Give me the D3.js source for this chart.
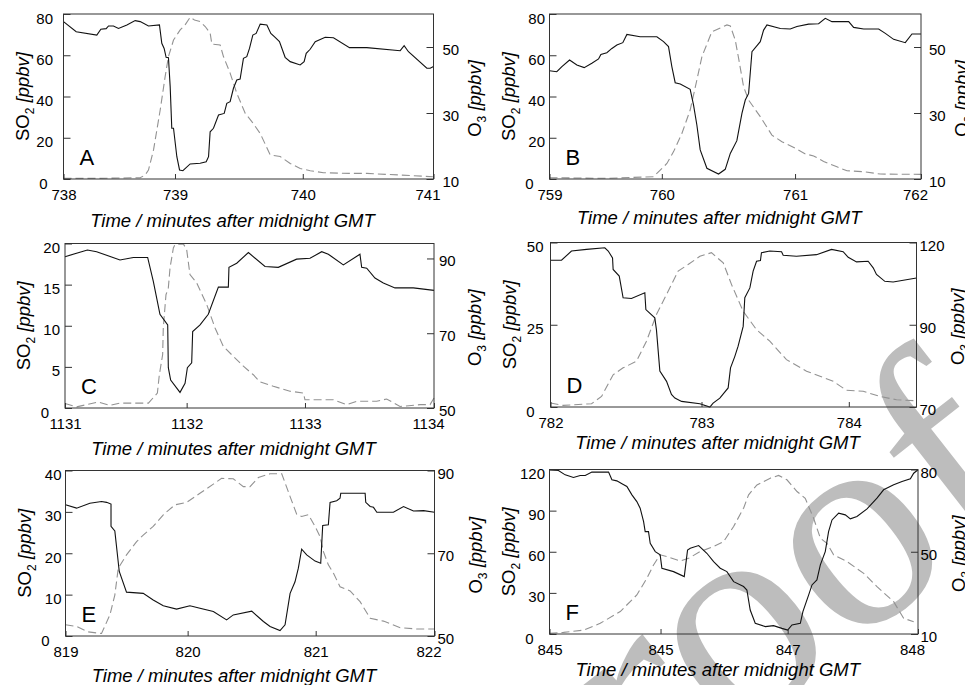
<!DOCTYPE html>
<html>
<head>
<meta charset="utf-8">
<title>SO2 and O3 during plume crossings</title>
<style>
  body { margin: 0; background: #fff; }
  svg { display: block; font-family: "Liberation Sans", Arial, sans-serif; }
</style>
</head>
<body>
<svg width="965" height="685"></svg>
<script src="https://d3js.org/d3.v7.min.js"></script>
<script>

// ---- data: [time (min after midnight GMT), ppbv] ----
var letters = ["A", "B", "C", "D", "E", "F"];

var so2A = [[738.0,76.3],[738.103,71.4],[738.270,69.8],[738.303,72.6],[738.346,72.9],[738.365,74.2],[738.405,74.2],[738.446,73.0],[738.514,74.7],[738.581,76.8],[738.622,76.3],[738.689,74.2],[738.778,74.7],[738.797,65.8],[738.816,63.3],[738.832,59.0],[738.851,58.8],[738.865,44.8],[738.878,24.6],[738.892,24.6],[738.919,10.8],[738.941,4.4],[738.968,4.0],[739.027,7.3],[739.108,7.6],[739.157,8.4],[739.176,10.8],[739.189,22.9],[739.216,24.6],[739.257,31.0],[739.303,31.8],[739.324,36.7],[739.351,37.5],[739.378,44.0],[739.405,48.0],[739.432,48.5],[739.459,58.5],[739.486,59.3],[739.508,63.3],[739.535,69.8],[739.562,70.6],[739.595,75.1],[739.649,74.7],[739.681,70.6],[739.716,68.7],[739.751,66.6],[739.797,59.0],[739.838,56.9],[739.919,55.3],[739.951,56.9],[739.968,60.9],[740.0,62.9],[740.041,66.6],[740.122,68.7],[740.189,68.5],[740.319,63.7],[740.459,63.7],[740.730,62.2],[740.762,64.6],[740.797,61.7],[740.946,53.7],[740.973,53.7],[741.0,54.5]];
var o3A = [[738.0,10.2],[738.297,10.2],[738.622,10.4],[738.662,11.2],[738.689,12.7],[738.730,18.8],[738.784,30.9],[738.824,41.0],[738.851,47.1],[738.892,52.1],[738.946,55.2],[738.986,56.7],[739.027,59.0],[739.062,58.2],[739.108,57.7],[739.149,56.2],[739.189,54.2],[739.203,50.9],[739.270,50.6],[739.297,47.1],[739.351,42.1],[739.405,36.0],[739.473,29.9],[739.527,27.4],[739.595,23.8],[739.676,17.3],[739.757,16.8],[739.838,14.7],[739.919,13.2],[740.0,12.5],[740.108,11.9],[740.324,11.7],[740.459,11.7],[740.730,11.2],[740.995,10.7]];

var so2B = [[759.0,52.5],[759.059,52.0],[759.100,54.5],[759.162,57.7],[759.221,55.3],[759.280,54.0],[759.342,56.1],[759.396,58.2],[759.415,60.4],[759.463,61.2],[759.504,63.3],[759.544,65.0],[759.592,66.1],[759.625,70.1],[759.732,69.0],[759.867,69.0],[759.921,66.6],[759.961,64.2],[759.988,54.5],[760.015,46.7],[760.056,46.1],[760.136,43.5],[760.163,35.9],[760.190,26.2],[760.217,14.1],[760.271,5.2],[760.365,2.4],[760.419,4.7],[760.460,12.4],[760.513,18.6],[760.554,31.8],[760.581,38.3],[760.608,41.5],[760.635,61.7],[760.702,66.6],[760.729,72.2],[760.756,74.7],[760.864,73.0],[760.944,72.7],[760.998,73.9],[761.092,75.1],[761.173,75.3],[761.227,77.9],[761.281,76.3],[761.416,76.3],[761.456,73.5],[761.537,72.7],[761.658,72.7],[761.712,70.6],[761.779,67.7],[761.873,66.1],[761.927,70.3],[762.0,70.3]];
var o3B = [[759.0,10.4],[759.463,10.2],[759.840,10.7],[759.894,12.7],[759.948,14.7],[760.002,18.3],[760.069,23.8],[760.136,30.9],[760.190,40.0],[760.231,47.1],[760.311,54.6],[760.433,56.7],[760.460,56.4],[760.500,52.1],[760.527,46.6],[760.567,38.0],[760.608,33.9],[760.702,28.9],[760.796,23.3],[760.877,21.3],[760.985,19.3],[761.066,17.6],[761.133,17.0],[761.214,15.3],[761.321,13.7],[761.402,12.5],[761.537,12.2],[761.671,11.5],[762.0,11.4]];

var so2C = [[1131.0,18.4],[1131.182,19.2],[1131.257,19.0],[1131.447,18.0],[1131.556,18.3],[1131.672,18.3],[1131.718,15.4],[1131.772,11.4],[1131.835,10.1],[1131.840,4.9],[1131.859,3.4],[1131.935,1.9],[1131.976,3.0],[1131.995,4.9],[1132.030,5.5],[1132.038,9.3],[1132.098,10.1],[1132.165,11.4],[1132.247,14.7],[1132.328,14.7],[1132.333,17.1],[1132.396,17.6],[1132.491,18.9],[1132.626,17.2],[1132.734,17.1],[1132.883,18.1],[1132.992,18.2],[1133.087,19.0],[1133.141,18.7],[1133.263,17.4],[1133.398,18.7],[1133.412,17.1],[1133.453,17.0],[1133.520,15.8],[1133.588,15.2],[1133.683,14.6],[1133.832,14.6],[1134.0,14.3]];
var o3C = [[1131.0,51.2],[1131.095,50.3],[1131.271,51.6],[1131.366,50.7],[1131.447,51.3],[1131.678,51.3],[1131.751,54.0],[1131.767,58.9],[1131.794,64.3],[1131.799,71.4],[1131.821,80.3],[1131.840,82.1],[1131.854,87.5],[1131.881,92.8],[1131.894,93.7],[1131.962,93.9],[1131.989,92.4],[1132.016,85.7],[1132.070,83.5],[1132.152,77.7],[1132.220,71.4],[1132.287,66.5],[1132.369,63.8],[1132.450,61.2],[1132.531,58.9],[1132.585,57.0],[1132.694,55.8],[1132.829,54.5],[1132.938,54.0],[1132.951,52.2],[1133.182,52.2],[1133.290,50.9],[1133.371,51.8],[1133.534,51.8],[1133.615,52.4],[1133.724,50.4],[1133.886,50.9],[1133.968,50.9],[1134.0,52.7]];

var so2D = [[782.0,44.6],[782.074,44.6],[782.141,47.4],[782.242,47.9],[782.365,48.4],[782.388,47.4],[782.417,45.3],[782.421,41.8],[782.462,39.8],[782.488,33.2],[782.544,33.0],[782.634,34.7],[782.641,29.6],[782.701,27.1],[782.712,23.5],[782.735,10.9],[782.780,7.8],[782.813,3.8],[782.836,2.7],[782.881,1.7],[783.004,1.0],[783.071,0.0],[783.093,1.2],[783.138,2.7],[783.194,5.8],[783.210,11.9],[783.239,15.4],[783.261,18.5],[783.295,24.5],[783.306,33.2],[783.340,36.2],[783.362,41.3],[783.385,44.3],[783.411,44.5],[783.418,46.9],[783.474,47.4],[783.553,47.2],[783.564,46.1],[783.653,45.8],[783.788,46.3],[783.889,47.9],[783.967,47.2],[784.001,45.5],[784.057,44.1],[784.135,44.3],[784.169,42.3],[784.191,40.3],[784.247,38.2],[784.303,38.0],[784.460,39.2]];
var o3D = [[782.0,71.2],[782.085,70.5],[782.276,71.0],[782.343,73.2],[782.421,79.8],[782.488,81.9],[782.578,83.9],[782.645,90.0],[782.712,98.1],[782.780,104.2],[782.858,111.3],[782.925,113.3],[783.004,115.8],[783.082,116.9],[783.161,113.8],[783.217,107.2],[783.295,99.1],[783.385,93.5],[783.474,90.0],[783.586,84.4],[783.721,80.9],[783.900,77.8],[783.989,75.1],[784.102,74.8],[784.214,73.2],[784.326,72.2],[784.460,71.9]];

var so2E = [[819.0,31.7],[819.090,30.9],[819.198,32.1],[819.293,32.5],[819.334,32.3],[819.370,31.9],[819.370,26.5],[819.401,25.4],[819.437,15.6],[819.496,10.6],[819.632,10.3],[819.713,8.7],[819.795,7.3],[819.903,6.5],[820.012,7.3],[820.093,6.7],[820.202,5.9],[820.310,3.9],[820.364,5.1],[820.514,6.0],[820.609,3.5],[820.663,2.3],[820.744,1.3],[820.785,2.7],[820.826,10.3],[820.866,13.1],[820.893,16.4],[820.920,21.0],[820.961,19.6],[821.029,18.1],[821.075,17.6],[821.091,26.7],[821.137,26.9],[821.151,32.3],[821.205,32.7],[821.232,33.3],[821.238,34.5],[821.436,34.5],[821.441,32.3],[821.477,31.3],[821.504,31.1],[821.531,29.9],[821.666,29.9],[821.748,31.3],[821.829,30.2],[821.911,30.3],[822.0,29.9]];
var o3E = [[819.0,52.7],[819.090,52.3],[819.184,51.0],[819.293,50.6],[819.361,55.1],[819.401,59.9],[819.429,66.4],[819.496,69.6],[819.578,72.8],[819.632,74.4],[819.713,76.5],[819.795,79.3],[819.890,81.7],[819.985,82.3],[820.093,84.5],[820.202,86.7],[820.269,88.1],[820.364,88.0],[820.446,86.1],[820.500,86.1],[820.568,88.3],[820.663,89.2],[820.758,89.2],[820.826,83.7],[820.880,79.4],[820.920,78.9],[820.975,79.3],[821.029,76.5],[821.070,74.0],[821.097,70.4],[821.137,67.2],[821.178,65.2],[821.232,61.9],[821.314,60.9],[821.395,58.3],[821.477,54.3],[821.585,53.6],[821.721,52.0],[821.856,51.7],[822.0,51.7]];

var so2F = [[845.0,119.8],[845.073,119.3],[845.128,116.1],[845.195,114.2],[845.250,115.6],[845.291,115.6],[845.345,118.1],[845.481,118.1],[845.508,112.5],[845.548,111.7],[845.597,109.3],[845.630,107.6],[845.671,101.5],[845.711,96.6],[845.738,91.8],[845.766,82.0],[845.779,74.7],[845.806,74.7],[845.820,66.2],[845.861,60.1],[845.901,57.7],[845.915,48.0],[846.010,45.5],[846.097,41.9],[846.119,57.7],[846.124,61.3],[846.146,62.6],[846.214,64.5],[846.281,58.9],[846.336,52.8],[846.390,48.0],[846.444,45.5],[846.499,38.2],[846.580,34.6],[846.607,32.1],[846.634,17.5],[846.675,7.8],[846.757,5.4],[846.824,6.1],[846.892,4.1],[846.939,2.9],[846.974,6.6],[847.042,7.8],[847.063,16.3],[847.110,28.5],[847.137,35.8],[847.177,39.4],[847.205,50.4],[847.245,60.1],[847.272,74.7],[847.300,83.2],[847.354,88.1],[847.408,86.9],[847.449,84.0],[847.503,85.7],[847.585,91.3],[847.666,99.1],[847.720,105.2],[847.802,108.8],[847.870,111.2],[847.938,113.2],[847.965,117.3],[848.0,119.8]];
var o3F = [[845.0,10.3],[845.114,10.8],[845.277,11.9],[845.413,15.2],[845.576,20.9],[845.711,29.0],[845.793,37.1],[845.847,43.6],[845.901,48.5],[845.956,47.6],[846.064,45.5],[846.132,46.8],[846.227,50.1],[846.336,52.5],[846.417,54.9],[846.499,62.3],[846.580,71.2],[846.621,77.7],[846.689,82.5],[846.797,85.8],[846.865,87.1],[846.933,85.0],[847.015,79.3],[847.082,76.0],[847.150,66.3],[847.205,56.6],[847.259,54.1],[847.313,48.5],[847.422,45.2],[847.558,39.5],[847.666,33.0],[847.802,25.7],[847.883,17.6],[847.965,16.0]];

// axis ranges, tick positions and tick texts as printed
var xDomains = [[738,741],[759,762],[1131,1134],[782,784.46],[819,822],[845,848]];
var xTicks = [[738,738.904,739.94,741],[759,759.907,760.983,762],[1131,1131.989,1132.951,1134],[782,783.015,784.005],[819,819.993,821.034,822],[845,845.904,846.939,848]];
var xLabels = [["738","739","740","741"],["759","760","761","762"],["1131","1132","1133","1134"],["782","783","784"],["819","820","821","822"],["845","845","847","848"]];

var so2Domains = [[0,80],[0,80],[0,20],[0,50],[0,40],[0,120]];
var so2Ticks = [[0,20,40,60,80],[0,20,40,60,80],[0,5,10,15,20],[0,25,50],[0,10,20,30,40],[0,30,60,90,120]];

var o3Domains = [[10,60],[10,60],[50,94],[70,120],[50,90],[10,90]];
var o3Ticks = [[10,30,50],[10,30,50],[50,70,90],[70,95,120],[50,70,90],[10,50,90]];
var o3Labels = [["10","30","50"],["10","30","50"],["50","70","90"],["70","90","120"],["50","70","90"],["10","50","80"]];

var series = [[so2A,o3A],[so2B,o3B],[so2C,o3C],[so2D,o3D],[so2E,o3E],[so2F,o3F]];

// ---- layout (pixels) ----
var boxes = [
  {x: 63.5,  y: 14,    w: 370,   h: 165,   gl: 10.5, gr: 9,   tOff: 47.5},
  {x: 549.5, y: 14,    w: 371.5, h: 165,   gl: 4.5,  gr: 8,   tOff: 45},
  {x: 65,    y: 243.5, w: 369,   h: 164.5, gl: 5,    gr: 5,   tOff: 46.5},
  {x: 550.5, y: 242.5, w: 366,   h: 164.5, gl: 7,    gr: 3,   tOff: 41.5},
  {x: 65.5,  y: 470.5, w: 369,   h: 165.5, gl: 4,    gr: 3,   tOff: 45.5},
  {x: 549.5, y: 469.5, w: 368.5, h: 164.5, gl: 4.5,  gr: 2.5, tOff: 42}
];

var svg = d3.select("svg");

// pre-proof watermark, sits behind the charts
svg.append("text")
    .attr("transform", "translate(1040,500) rotate(-38)")
    .attr("text-anchor", "end")
    .attr("font-family", "'Liberation Serif', 'DejaVu Serif', serif")
    .attr("font-size", 295)
    .attr("fill", "#bdbdbd")
    .text("Journal Pre-proof");

boxes.forEach(function(b, i) {
  var g = svg.append("g")
      .attr("transform", "translate(" + b.x + "," + b.y + ")");

  var x = d3.scaleLinear().domain(xDomains[i]).range([0, b.w]);
  var yL = d3.scaleLinear().domain(so2Domains[i]).range([b.h, 0]);
  var yR = d3.scaleLinear().domain(o3Domains[i]).range([b.h, 0]);

  var so2Line = d3.line().x(function(d) { return x(d[0]); }).y(function(d) { return yL(d[1]); });
  var o3Line = d3.line().x(function(d) { return x(d[0]); }).y(function(d) { return yR(d[1]); });

  // O3 dashed grey
  g.append("path")
      .datum(series[i][1])
      .attr("fill", "none")
      .attr("stroke", "#929292")
      .attr("stroke-width", 1.1)
      .attr("stroke-dasharray", "8,4")
      .attr("d", o3Line);

  // SO2 solid black
  g.append("path")
      .datum(series[i][0])
      .attr("fill", "none")
      .attr("stroke", "#111")
      .attr("stroke-width", 1.1)
      .attr("d", so2Line);

  // frame
  g.append("rect")
      .attr("width", b.w)
      .attr("height", b.h)
      .attr("fill", "none")
      .attr("stroke", "#333")
      .attr("stroke-width", 1);

  // left axis
  var ax = g.append("g")
      .call(d3.axisLeft(yL).tickValues(so2Ticks[i]).tickSize(-7).tickPadding(b.gl));
  ax.select(".domain").remove();
  ax.attr("font-size", 15).attr("font-family", null).attr("color", "#333");
  ax.selectAll("text")
      .attr("fill", "#000")
      .attr("dy", "0.6em")
      .attr("x", function(d, k) { return k === 0 ? -16 : -b.gl; });

  // right axis
  var ay = g.append("g")
      .attr("transform", "translate(" + b.w + ",0)")
      .call(d3.axisRight(yR).tickValues(o3Ticks[i])
        .tickFormat(function(d, k) { return o3Labels[i][k]; })
        .tickSize(-7).tickPadding(b.gr));
  ay.select(".domain").remove();
  ay.attr("font-size", 15).attr("font-family", null).attr("color", "#333");
  ay.selectAll("text").attr("fill", "#000").attr("dy", "0.5em");

  // bottom axis
  var az = g.append("g")
      .attr("transform", "translate(0," + b.h + ")")
      .call(d3.axisBottom(x).tickValues(xTicks[i])
        .tickFormat(function(d, k) { return xLabels[i][k]; })
        .tickSize(-5).tickPadding(10));
  az.select(".domain").remove();
  az.attr("font-size", 15).attr("font-family", null).attr("color", "#333");
  az.selectAll("text")
      .attr("fill", "#000")
      .attr("dx", function(d) { return d === xDomains[i][1] ? -6 : 0; });

  // panel letter
  g.append("text")
      .attr("x", 16)
      .attr("y", b.h - 14)
      .attr("font-size", 22)
      .text(letters[i]);

  // x title
  g.append("text")
      .attr("x", b.w / 2 - 16)
      .attr("y", b.h + b.tOff)
      .attr("text-anchor", "middle")
      .attr("font-size", 18.5)
      .attr("font-style", "italic")
      .text("Time / minutes after midnight GMT");

  // left title
  var tl = g.append("text")
      .attr("transform", "translate(-35," + (b.h / 2) + ") rotate(-90)")
      .attr("text-anchor", "middle")
      .attr("font-size", 18.5);
  tl.append("tspan").text("SO");
  tl.append("tspan").attr("font-size", 12).attr("dy", 5).text("2");
  tl.append("tspan").attr("dy", -5).attr("font-style", "italic").text(" [ppbv]");

  // right title
  var tr = g.append("text")
      .attr("transform", "translate(" + (b.w + 47) + "," + (b.h / 2 + 2) + ") rotate(-90)")
      .attr("text-anchor", "middle")
      .attr("font-size", 18.5);
  tr.append("tspan").text("O");
  tr.append("tspan").attr("font-size", 12).attr("dy", 5).text("3");
  tr.append("tspan").attr("dy", -5).attr("font-style", "italic").text(" [ppbv]");
});

</script>
</body>
</html>
